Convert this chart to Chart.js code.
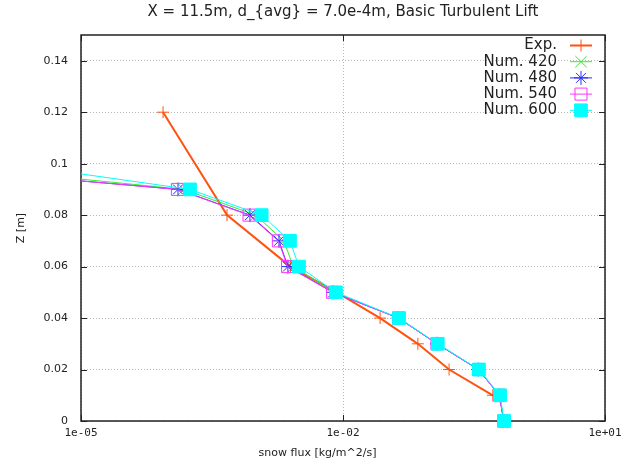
<!DOCTYPE html>
<html><head><meta charset="utf-8">
<script src="https://cdn.jsdelivr.net/npm/chart.js@4/dist/chart.umd.min.js"></script>
<style>html,body{margin:0;padding:0;background:#fff}</style>
</head><body>
<canvas id="c" width="635" height="464"></canvas>
<script>
// ---- data ----
const seriesNames = ['Exp.', 'Num. 420', 'Num. 480', 'Num. 540', 'Num. 600'];
const expZ    = [0.12, 0.08, 0.06, 0.05, 0.04, 0.03, 0.02, 0.01];
const expFlux = [8.7e-5, 4.7e-4, 2.5e-3, 8.5e-3, 2.66e-2, 7.2e-2, 0.164, 0.52];
const numZ    = [0.10, 0.09, 0.08, 0.07, 0.06, 0.05, 0.04, 0.03, 0.02, 0.01, 0];
const num420  = [1.7e-7, 1.5e-4, 1.0e-3, 2.1e-3, 2.7e-3, 8.0e-3, 0.0435, 0.120, 0.357, 0.622, 0.695];
const num480  = [5.5e-8, 1.29e-4, 8.6e-4, 1.85e-3, 2.34e-3, 7.7e-3, 0.0432, 0.119, 0.355, 0.618, 0.692];
const num540  = [5.5e-8, 1.27e-4, 8.4e-4, 1.82e-3, 2.32e-3, 7.6e-3, 0.0432, 0.119, 0.355, 0.618, 0.692];
const num600  = [1.5e-6, 1.77e-4, 1.17e-3, 2.47e-3, 3.13e-3, 8.3e-3, 0.0438, 0.1216, 0.36, 0.628, 0.70];
const xTicks  = [1e-5, 1e-2, 1e1];
const yTicks  = [0, 0.02, 0.04, 0.06, 0.08, 0.10, 0.12, 0.14];
const titleText = 'X = 11.5m, d_{avg} = 7.0e-4m, Basic Turbulent Lift';
const xTitle = 'snow flux [kg/m^2/s]';
const yTitle = 'Z [m]';

const styles = [
  {color:'#ff5210', width:2, point:'cross', r:6, fill:false},
  {color:'#33ee33', width:1, point:'crossRot', r:8, fill:false},
  {color:'#2a2aff', width:1, point:'star', r:7, fill:false},
  {color:'#ff33ff', width:1, point:'rect', r:8.5, fill:false},
  {color:'#00ffff', width:1, point:'rect', r:9, fill:true}
];
const xsList = [expFlux, num420, num480, num540, num600];
const zsList = [expZ, numZ, numZ, numZ, numZ];

const datasets = seriesNames.map((name, i) => {
  const s = styles[i];
  return {
    label: name,
    data: xsList[i].map((v, k) => ({x: v, y: zsList[i][k]})),
    showLine: true,
    borderColor: s.color,
    backgroundColor: s.fill ? s.color : 'rgba(0,0,0,0)',
    borderWidth: s.width,
    pointStyle: s.point,
    pointRadius: s.r,
    pointBorderWidth: 1,
    pointBorderColor: s.color,
    pointBackgroundColor: s.fill ? s.color : 'rgba(0,0,0,0)',
    clip: {left: 0, top: 0, right: 12, bottom: 12},
    order: seriesNames.length - i
  };
});

function fmtX(v) {
  const e = Math.round(Math.log10(v));
  return '1e' + (e < 0 ? '-' : '+') + String(Math.abs(e)).padStart(2, '0');
}

const framePlugin = {
  id: 'frame',
  beforeDatasetsDraw(chart) {
    const {ctx, chartArea: a, scales: {x, y}} = chart;
    ctx.save();
    ctx.strokeStyle = '#222';
    ctx.lineWidth = 1;
    const tl = 6;
    ctx.beginPath();
    yTicks.forEach(v => {
      const py = Math.round(y.getPixelForValue(v)) + 0.5;
      ctx.moveTo(a.left, py); ctx.lineTo(a.left + tl, py);
      ctx.moveTo(a.right, py); ctx.lineTo(a.right - tl, py);
    });
    xTicks.forEach(v => {
      const px = Math.round(x.getPixelForValue(v)) + 0.5;
      ctx.moveTo(px, a.bottom); ctx.lineTo(px, a.bottom - tl);
      ctx.moveTo(px, a.top); ctx.lineTo(px, a.top + tl);
    });
    ctx.stroke();
    ctx.lineWidth = 1.5;
    ctx.strokeRect(a.left, a.top, a.right - a.left, a.bottom - a.top);
    ctx.restore();
  },
  afterDatasetsDraw(chart) {
    const {ctx, chartArea: a} = chart;
    ctx.save();
    // titles
    ctx.fillStyle = '#222';
    ctx.textAlign = 'center';
    ctx.textBaseline = 'middle';
    ctx.font = '15px "DejaVu Sans"';
    ctx.fillText(titleText, (a.left + a.right) / 2, 12);
    ctx.font = '11px "DejaVu Sans"';
    ctx.fillText(xTitle, chart.width / 2, 453);
    ctx.save();
    ctx.translate(21, (a.top + a.bottom) / 2);
    ctx.rotate(-Math.PI / 2);
    ctx.fillText(yTitle, 0, 0);
    ctx.restore();
    // legend
    const textRight = a.right - 48;
    const lineL = a.right - 35, lineR = a.right - 13;
    const y0 = a.top + 10.5, dy = 16.2;
    ctx.font = '15px "DejaVu Sans"';
    ctx.textAlign = 'right';
    seriesNames.forEach((name, i) => {
      const s = styles[i];
      const yy = y0 + i * dy;
      ctx.fillStyle = '#222';
      ctx.fillText(name, textRight, yy);
      ctx.strokeStyle = s.color;
      ctx.lineWidth = s.width;
      ctx.beginPath(); ctx.moveTo(lineL, yy); ctx.lineTo(lineR, yy); ctx.stroke();
      ctx.lineWidth = 1;
      ctx.fillStyle = s.fill ? s.color : 'rgba(0,0,0,0)';
      Chart.helpers.drawPoint(ctx, {pointStyle: s.point, radius: s.r, rotation: 0, borderWidth: 1}, (lineL + lineR) / 2, yy);
    });
    ctx.restore();
  }
};

new Chart(document.getElementById('c'), {
  type: 'scatter',
  data: {datasets},
  plugins: [framePlugin],
  options: {
    responsive: false,
    animation: false,
    layout: {padding: {left: 0, right: 30, top: 35, bottom: 0}},
    plugins: {
      legend: {display: false},
      tooltip: {enabled: false},
      title: {display: false}
    },
    scales: {
      x: {
        type: 'logarithmic',
        min: 1e-5, max: 10,
        afterBuildTicks: s => { s.ticks = xTicks.map(v => ({value: v})); },
        afterFit: s => { s.height = 43; },
        grid: {color: '#b8b8b8', drawTicks: false, lineWidth: 1},
        border: {display: false, dash: [1, 2]},
        ticks: {
          callback: v => fmtX(v),
          font: {family: 'DejaVu Sans Mono', size: 11},
          color: '#222', padding: 6, maxRotation: 0, autoSkip: false
        },
        title: {display: false}
      },
      y: {
        type: 'linear',
        min: 0, max: 0.15,
        afterBuildTicks: s => { s.ticks = yTicks.map(v => ({value: v})); },
        afterFit: s => { s.width = 81; },
        grid: {color: '#b8b8b8', drawTicks: false, lineWidth: 1},
        border: {display: false, dash: [1, 2]},
        ticks: {
          callback: v => String(+(+v).toFixed(2)),
          font: {family: 'DejaVu Sans', size: 11},
          color: '#222', padding: 13
        },
        title: {display: false}
      }
    }
  }
});
</script>
</body></html>
